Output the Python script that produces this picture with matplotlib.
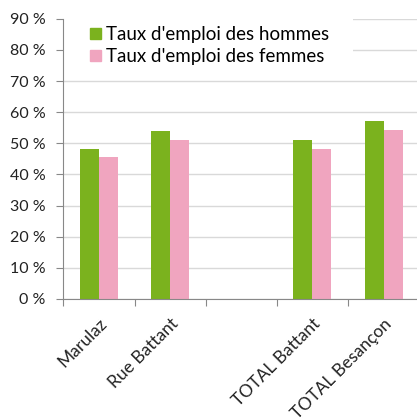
import numpy as np
import matplotlib.pyplot as plt
from matplotlib.patches import Patch, Rectangle

plt.rcParams['font.family'] = ['Lato', 'DejaVu Sans']

categories = ['Marulaz', 'Rue Battant', '', 'TOTAL Battant', 'TOTAL Besançon']
hommes = [48.1, 53.9, np.nan, 51.0, 57.1]
femmes = [45.7, 51.0, np.nan, 48.1, 54.3]
series_labels = ["Taux d'emploi des hommes", "Taux d'emploi des femmes"]

green = '#7bb21e'
pink = '#f0a5bf'

fig = plt.figure(figsize=(4.17, 4.18), dpi=100)
ax = fig.add_axes([0.152, 0.285, 0.853, 0.670])

ind = np.arange(len(categories))
width = 0.267
ax.bar(ind - width / 2, hommes, width, color=green, zorder=2)
ax.bar(ind + width / 2, femmes, width, color=pink, zorder=2)

ax.set_xlim(-0.5, len(categories) - 0.5)
ax.set_ylim(0, 90)
ax.set_yticks(np.arange(0, 91, 10))
ax.set_yticklabels(['%d %%' % v for v in range(0, 91, 10)], fontsize=11.5, color='#222222')
ax.yaxis.grid(True, color='#d9d9d9', linewidth=1, zorder=0)
ax.set_axisbelow(True)

# ticks between categories, labels at centers
ax.set_xticks(np.arange(len(categories) + 1) - 0.5)
ax.set_xticklabels([])
ax.set_xticks(ind, minor=True)
ax.set_xticklabels(categories, minor=True, rotation=45, ha='right',
                   rotation_mode='anchor', fontsize=12.5, color='#222222')
ax.tick_params(axis='x', which='minor', length=0, pad=12)
ax.tick_params(axis='x', which='major', length=5, color='#888888')
ax.tick_params(axis='y', length=5, color='#888888', pad=8)

for s in ['top', 'right']:
    ax.spines[s].set_visible(False)
for s in ['left', 'bottom']:
    ax.spines[s].set_color('#888888')

# white box behind the legend hides the top gridlines
ax.add_patch(Rectangle((0.003, 0.83), 0.812, 0.2, transform=ax.transAxes,
                       facecolor='white', edgecolor='none', zorder=1, clip_on=False))

handles = [Patch(color=green), Patch(color=pink)]
leg = ax.legend(handles, series_labels, loc='upper left',
                bbox_to_anchor=(0.076, 0.975), frameon=False, fontsize=13.5,
                handlelength=0.55, handleheight=0.55, handletextpad=0.3,
                labelspacing=0.3, borderaxespad=0.0, borderpad=0.0)
leg.set_zorder(5)

fig.savefig('out.png', dpi=100)
